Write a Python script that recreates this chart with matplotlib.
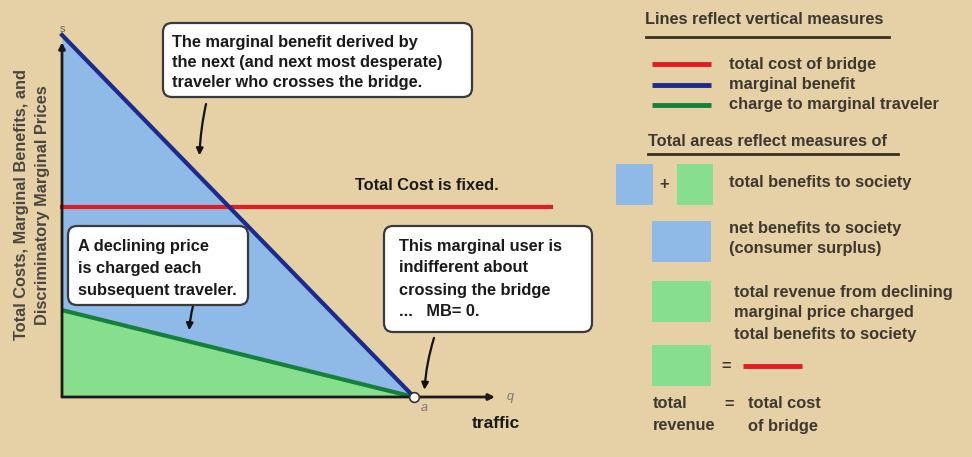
"""Bridge pricing diagram: marginal benefit, declining charge and fixed total cost.

Rebuilds the textbook figure with a data axes for the triangle chart and a
pixel-coordinate overlay for the callout boxes and the right-hand key.
"""
import numpy as np
import matplotlib
matplotlib.use("Agg")
import matplotlib.pyplot as plt
from matplotlib.patches import FancyBboxPatch, Rectangle

# ---- chart values (price units on y, traffic on x) ----
traffic = [0.0, 10.0]             # 0 .. a
marginal_benefit = [10.0, 0.0]    # s .. 0
marginal_charge = [2.4, 0.0]      # declining price charged
total_cost = 5.25
cost_line_end = 13.9
q_axis_end = 12.3
p_axis_end = 9.8

# ---- text ----
ylabel_lines = ["Total Costs, Marginal Benefits, and",
                "Discriminatory Marginal Prices"]
box_mb = ["The marginal benefit derived by",
          "the next (and next most desperate)",
          "traveler who crosses the bridge."]
box_price = ["A declining price", "is charged each", "subsequent traveler."]
box_a = ["This marginal user is", "indifferent about",
         "crossing the bridge", "...   MB= 0."]
line_keys = ["total cost of bridge", "marginal benefit",
             "charge to marginal traveler"]

BG = "#e6d1a6"
BLUE_FILL = "#8fb9e6"
GREEN_FILL = "#86de8e"
BLUE = "#1c2a8c"
GREEN = "#15803a"
RED = "#e41b23"
INK = "#1a1a1a"
KEY_INK = "#3d3830"

plt.rcParams["font.family"] = ["Liberation Sans", "DejaVu Sans"]

W, H = 972, 457
fig = plt.figure(figsize=(W / 100, H / 100), dpi=100, facecolor=BG)

# data axes: origin at pixel (62, 397)
ax = fig.add_axes([62 / W, 60 / H, 498 / W, 367 / H])
ax.set_xlim(0, 498 / 35.2)
ax.set_ylim(0, 367 / 36.2)
ax.set_facecolor("none")
ax.axis("off")

ax.fill_between(traffic, marginal_benefit, color=BLUE_FILL, lw=0, zorder=1)
ax.fill_between(traffic, marginal_charge, color=GREEN_FILL, lw=0, zorder=2)
ax.plot(traffic, marginal_charge, color=GREEN, lw=3, zorder=3,
        solid_capstyle="butt")
ax.plot([0, cost_line_end], [total_cost, total_cost], color=RED, lw=3,
        zorder=3, clip_on=False)
ax.plot(traffic, marginal_benefit, color=BLUE, lw=3, zorder=4, clip_on=False)

arrow_kw = dict(arrowstyle="-|>", color="#1a1a1a", lw=2, mutation_scale=9,
                shrinkA=0, shrinkB=0)
ax.annotate("", xy=(0, p_axis_end), xytext=(0, 0), arrowprops=arrow_kw,
            zorder=5)
ax.annotate("", xy=(q_axis_end, 0), xytext=(0, 0), arrowprops=arrow_kw,
            zorder=5)
ax.plot([traffic[1]], [0], "o", mfc="white", mec="#333333", mew=1.2, ms=7,
        zorder=6, clip_on=False)

ax.annotate("s", (0, marginal_benefit[0]), xytext=(0, 1),
            textcoords="offset points", ha="center", va="bottom",
            color="#666666", fontsize=8, annotation_clip=False)
ax.annotate("q", (q_axis_end, 0), xytext=(11, 0), textcoords="offset points",
            ha="center", va="center", color="#777777", fontsize=9,
            style="italic", annotation_clip=False)
ax.annotate("a", (traffic[1], 0), xytext=(7, -8), textcoords="offset points",
            ha="center", va="center", color="#777777", fontsize=9,
            style="italic", annotation_clip=False)

# overlay in pixel coordinates (y grows downward)
ov = fig.add_axes([0, 0, 1, 1])
ov.set_xlim(0, W)
ov.set_ylim(H, 0)
ov.set_facecolor("none")
ov.axis("off")

BOX_FS = 11.8


def callout(x0, y0, x1, y1, lines, tx, ty, dy):
    box = FancyBboxPatch((x0, y0), x1 - x0, y1 - y0,
                         boxstyle="round,pad=0,rounding_size=9",
                         fc="white", ec="#3a3a3a", lw=1.6, zorder=10)
    ov.add_patch(box)
    for i, s in enumerate(lines):
        ov.text(tx, ty + i * dy, s, ha="left", va="center", fontsize=BOX_FS,
                fontweight="bold", color=INK, zorder=11)


callout(163, 23, 472, 97, box_mb, 172, 42, 20.5)
callout(68, 226, 248, 305, box_price, 78, 247, 21.5)
callout(384, 226, 592, 332, box_a, 399, 246, 22)

pointer = dict(arrowstyle="-|>", color="#111111", lw=1.6, mutation_scale=10,
               connectionstyle="arc3,rad=0.06", shrinkA=0)
q_mb = 3.9
ax.annotate("", xy=(q_mb, np.interp(q_mb, traffic, marginal_benefit)),
            xytext=(206, 104), textcoords=ov.transData,
            arrowprops=dict(pointer, shrinkB=15), zorder=12)
q_pr = 3.6
ax.annotate("", xy=(q_pr, np.interp(q_pr, traffic, marginal_charge)),
            xytext=(193, 306), textcoords=ov.transData,
            arrowprops=dict(pointer, shrinkB=8), zorder=12)
ax.annotate("", xy=(traffic[1] + 0.3, 0.2), xytext=(434, 338),
            textcoords=ov.transData,
            arrowprops=dict(pointer, shrinkB=0), zorder=12)

ov.text(427, 186, "Total Cost is fixed.", ha="center", va="center",
        fontsize=BOX_FS, fontweight="bold", color=INK)
ov.text(496, 424, "traffic", ha="center", va="center", fontsize=12.5,
        fontweight="bold", color=INK)

ov.text(22, 205, ylabel_lines[0], rotation=90, ha="center", va="center",
        fontsize=11.8, fontweight="bold", color="#4a4640")
ov.text(43, 205, ylabel_lines[1], rotation=90, ha="center", va="center",
        fontsize=11.8, fontweight="bold", color="#4a4640")

# ---- key on the right ----
kfs = 11.8
kw = dict(ha="left", va="center", fontsize=kfs, fontweight="bold",
          color=KEY_INK)
ov.text(645, 19, "Lines reflect vertical measures", **kw)
ov.plot([646, 889], [37, 37], color="#3a2e1e", lw=2)
for i, (c, s) in enumerate(zip([RED, BLUE, GREEN], line_keys)):
    y = 64 + i * 20.5
    ov.plot([652, 711], [y, y], color=c, lw=3.5, solid_capstyle="butt")
    ov.text(729, y, s, **kw)

ov.text(648, 142, "Total areas reflect measures of", **kw)
ov.plot([648, 898], [154, 154], color="#3a2e1e", lw=2)

ov.add_patch(Rectangle((616, 164), 37, 41, fc=BLUE_FILL, ec="none"))
ov.text(664, 184, "+", ha="center", va="center", fontsize=kfs,
        fontweight="bold", color=KEY_INK)
ov.add_patch(Rectangle((677, 164), 36, 41, fc=GREEN_FILL, ec="none"))
ov.text(729, 183, "total benefits to society", **kw)

ov.add_patch(Rectangle((652, 221), 59, 41, fc=BLUE_FILL, ec="none"))
ov.text(729, 228, "net benefits to society", **kw)
ov.text(729, 249, "(consumer surplus)", **kw)

ov.add_patch(Rectangle((652, 281), 59, 41, fc=GREEN_FILL, ec="none"))
for i, s in enumerate(["total revenue from declining",
                       "marginal price charged",
                       "total benefits to society"]):
    ov.text(734, 292 + i * 21, s, **kw)

ov.add_patch(Rectangle((652, 345), 59, 41, fc=GREEN_FILL, ec="none"))
ov.text(726, 366, "=", ha="center", va="center", fontsize=kfs,
        fontweight="bold", color=KEY_INK)
ov.plot([743, 802], [366, 366], color=RED, lw=3.5, solid_capstyle="butt")

ov.text(653, 404, "total", **kw)
ov.text(653, 426, "revenue", **kw)
ov.text(729, 404, "=", ha="center", va="center", fontsize=kfs,
        fontweight="bold", color=KEY_INK)
ov.text(748, 404, "total cost", **kw)
ov.text(748, 426, "of bridge", **kw)

fig.savefig("out.png", dpi=100, facecolor=BG)
